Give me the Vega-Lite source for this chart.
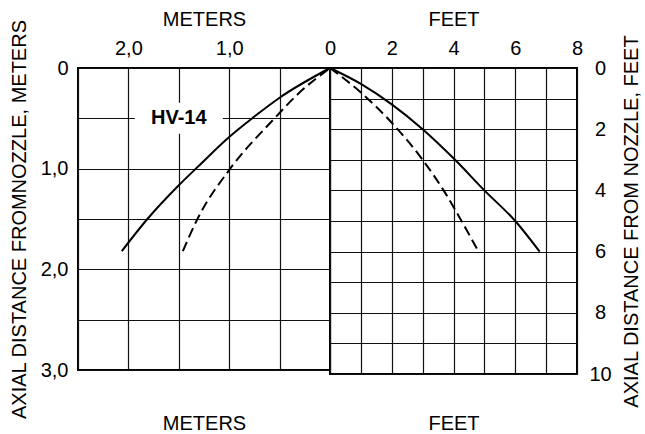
{
  "$schema": "https://vega.github.io/schema/vega-lite/v6.json",
  "background": "white",
  "padding": {"left": 8, "top": 8, "right": 2, "bottom": 0},
  "spacing": 0,
  "bounds": "flush",
  "config": {
    "font": "Liberation Sans",
    "view": {"stroke": "black", "strokeWidth": 2},
    "axis": {
      "domain": false, "ticks": false, "grid": true,
      "gridColor": "#111", "gridWidth": 1.2, "gridOpacity": 1,
      "labelFontSize": 20, "labelColor": "black", "labelFlush": false, "labelOverlap": false,
      "titleFontSize": 20, "titleFontWeight": "normal", "titleColor": "black"
    }
  },
  "datasets": {
    "meters": [
      {"h": 0, "a": 0, "style": "solid"},
      {"h": 0.5, "a": 0.295, "style": "solid"},
      {"h": 0.76, "a": 0.49, "style": "solid"},
      {"h": 1.0, "a": 0.685, "style": "solid"},
      {"h": 1.31, "a": 0.98, "style": "solid"},
      {"h": 1.5, "a": 1.165, "style": "solid"},
      {"h": 1.82, "a": 1.51, "style": "solid"},
      {"h": 2.066, "a": 1.82, "style": "solid"},
      {"h": 0, "a": 0, "style": "dashed"},
      {"h": 0.32, "a": 0.26, "style": "dashed"},
      {"h": 0.55, "a": 0.5, "style": "dashed"},
      {"h": 0.99, "a": 1.0, "style": "dashed"},
      {"h": 1.31, "a": 1.49, "style": "dashed"},
      {"h": 1.46, "a": 1.82, "style": "dashed"}
    ],
    "feet": [
      {"h": 0, "a": 0, "style": "solid"},
      {"h": 1, "a": 0.52, "style": "solid"},
      {"h": 2, "a": 1.19, "style": "solid"},
      {"h": 3.0, "a": 2, "style": "solid"},
      {"h": 4.05, "a": 3, "style": "solid"},
      {"h": 5.0, "a": 4, "style": "solid"},
      {"h": 6.0, "a": 5, "style": "solid"},
      {"h": 6.79, "a": 6, "style": "solid"},
      {"h": 0, "a": 0, "style": "dashed"},
      {"h": 1, "a": 0.8, "style": "dashed"},
      {"h": 2, "a": 1.79, "style": "dashed"},
      {"h": 3.0, "a": 3, "style": "dashed"},
      {"h": 3.68, "a": 4, "style": "dashed"},
      {"h": 4.26, "a": 5, "style": "dashed"},
      {"h": 4.81, "a": 6, "style": "dashed"}
    ],
    "labels": [{"h": 1.5, "a": 0.5, "text": "HV-14"}]
  },
  "hconcat": [
    {
      "width": 252,
      "height": 302,
      "resolve": {"axis": {"x": "independent"}},
      "encoding": {
        "y": {
          "field": "a", "type": "quantitative",
          "scale": {"domain": [0, 3], "reverse": true, "nice": false},
          "axis": {
            "orient": "left", "values": [0, 0.5, 1, 1.5, 2, 2.5, 3],
            "labelExpr": "datum.value == 0 ? '0' : (datum.value % 1 == 0 ? replace(format(datum.value, '.1f'), '.', ',') : '')",
            "labelPadding": 10, "title": "AXIAL DISTANCE FROMNOZZLE, METERS", "titlePadding": 11
          }
        }
      },
      "layer": [
        {
          "data": {"name": "meters"},
          "transform": [{"filter": "datum.style == 'solid'"}],
          "mark": {"type": "line", "color": "black", "strokeWidth": 2, "interpolate": "monotone"},
          "encoding": {
            "x": {
              "field": "h", "type": "quantitative",
              "scale": {"domain": [0, 2.5], "reverse": true, "nice": false, "zero": false},
              "axis": {
                "orient": "top", "values": [0, 0.5, 1, 1.5, 2, 2.5],
                "labelExpr": "datum.value == 0 ? '0' : (datum.value % 1 == 0 ? replace(format(datum.value, '.1f'), '.', ',') : '')",
                "labelPadding": 10, "title": "METERS", "titlePadding": 9
              }
            }
          }
        },
        {
          "data": {"name": "meters"},
          "transform": [{"filter": "datum.style == 'dashed'"}],
          "mark": {"type": "line", "color": "black", "strokeWidth": 2, "strokeDash": [10, 5], "interpolate": "monotone"},
          "encoding": {
            "x": {
              "field": "h", "type": "quantitative",
              "axis": {"orient": "bottom", "labels": false, "grid": false, "ticks": false, "domain": false, "title": "METERS", "titlePadding": 43}
            }
          }
        },
        {
          "data": {"name": "labels"},
          "mark": {"type": "point", "shape": "M-1,-0.352L1,-0.352L1,0.352L-1,0.352Z", "size": 7744, "filled": true, "color": "white", "opacity": 1, "strokeWidth": 0},
          "encoding": {
            "x": {"field": "h", "type": "quantitative", "axis": null}
          }
        },
        {
          "data": {"name": "labels"},
          "mark": {"type": "text", "fontSize": 20, "fontWeight": "bold", "color": "black", "baseline": "middle", "align": "center"},
          "encoding": {
            "x": {"field": "h", "type": "quantitative", "axis": null},
            "text": {"field": "text"}
          }
        }
      ]
    },
    {
      "width": 247,
      "height": 306,
      "resolve": {"axis": {"x": "independent"}},
      "data": {"name": "feet"},
      "encoding": {
        "y": {
          "field": "a", "type": "quantitative",
          "scale": {"domain": [0, 10], "reverse": true, "nice": false},
          "axis": {
            "orient": "right", "values": [0, 1, 2, 3, 4, 5, 6, 7, 8, 9, 10],
            "labelExpr": "datum.value % 2 == 0 ? datum.label : ''",
            "labelAlign": "center", "labelPadding": 23,
            "title": "AXIAL DISTANCE FROM NOZZLE, FEET", "titleAngle": 270, "titleBaseline": "top", "titlePadding": 10
          }
        }
      },
      "layer": [
        {
          "transform": [{"filter": "datum.style == 'solid'"}],
          "mark": {"type": "line", "color": "black", "strokeWidth": 2, "interpolate": "monotone"},
          "encoding": {
            "x": {
              "field": "h", "type": "quantitative",
              "scale": {"domain": [0, 8], "nice": false},
              "axis": {
                "orient": "top", "values": [0, 1, 2, 3, 4, 5, 6, 7, 8],
                "labelExpr": "datum.value % 2 == 0 && datum.value > 0 ? datum.label : ''",
                "labelPadding": 10, "title": "FEET", "titlePadding": 9
              }
            }
          }
        },
        {
          "transform": [{"filter": "datum.style == 'dashed'"}],
          "mark": {"type": "line", "color": "black", "strokeWidth": 2, "strokeDash": [10, 5], "interpolate": "monotone"},
          "encoding": {
            "x": {
              "field": "h", "type": "quantitative",
              "axis": {"orient": "bottom", "labels": false, "grid": false, "ticks": false, "domain": false, "title": "FEET", "titlePadding": 39}
            }
          }
        }
      ]
    }
  ]
}
